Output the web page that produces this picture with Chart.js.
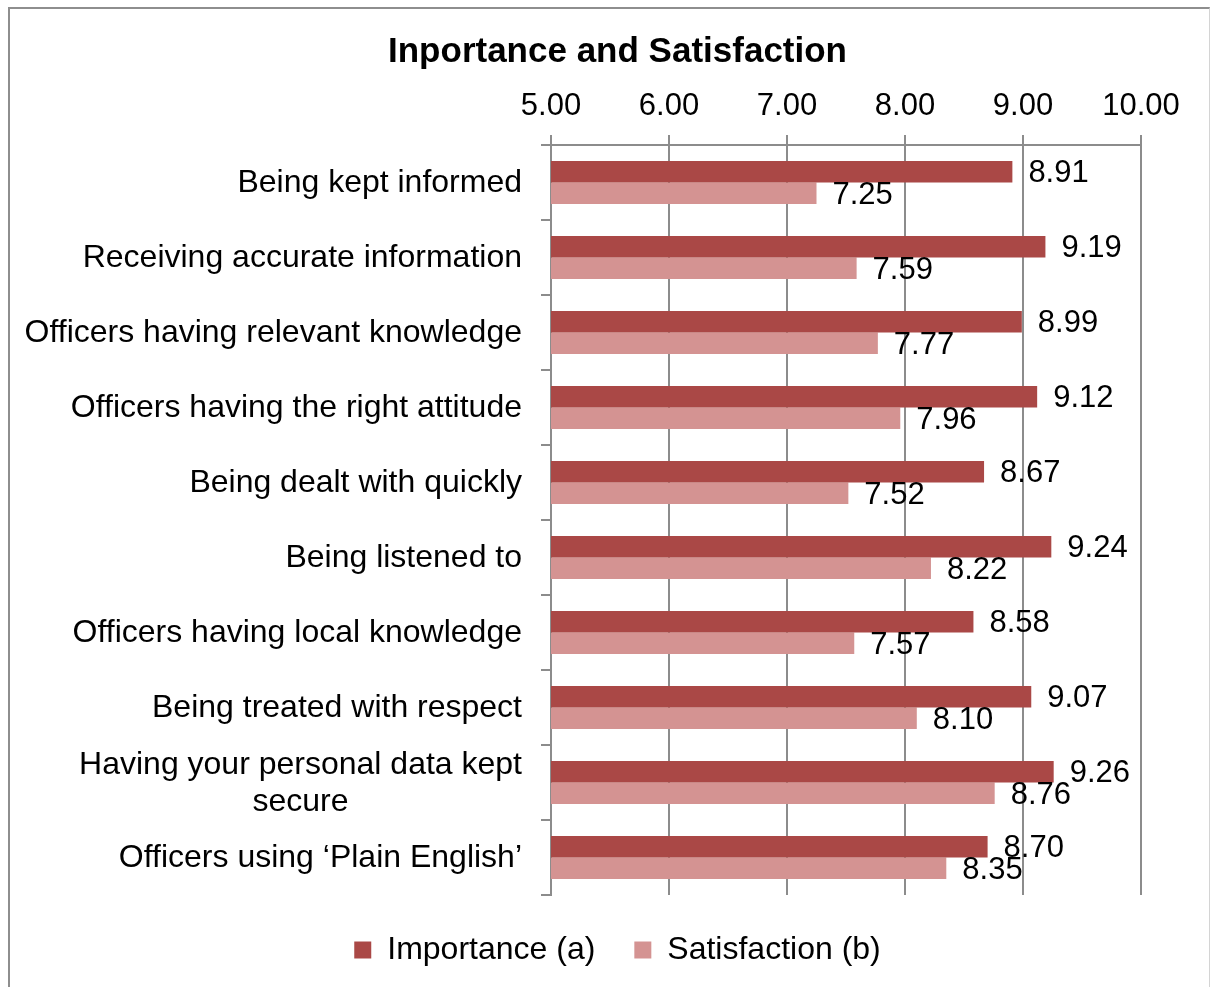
<!DOCTYPE html>
<html>
<head>
<meta charset="utf-8">
<script src="https://cdn.jsdelivr.net/npm/chart.js@4.4.1/dist/chart.umd.min.js"></script>
<style>
  html, body { margin: 0; padding: 0; background: #fff; overflow: hidden; }
  #wrap { position: relative; width: 1211px; height: 987px; overflow: hidden; }
  #frame {
    position: absolute; left: 8px; top: 7px; width: 1199px; height: 1100px;
    border-left: 2px solid #8e8e8e; border-top: 2px solid #8e8e8e;
    border-right: 1px solid #d4d4d4; pointer-events: none;
  }
</style>
</head>
<body>
<div id="wrap">
  <canvas id="myChart" width="1211" height="976"></canvas>
  <div id="frame"></div>
</div>
<script>
var categories = [
  "Being kept informed",
  "Receiving accurate information",
  "Officers having relevant knowledge",
  "Officers having the right attitude",
  "Being dealt with quickly",
  "Being listened to",
  "Officers having local knowledge",
  "Being treated with respect",
  ["Having your personal data kept", "secure"],
  "Officers using \u2018Plain English\u2019"
];
var importance = [8.91, 9.19, 8.99, 9.12, 8.67, 9.24, 8.58, 9.07, 9.26, 8.70];
var satisfaction = [7.25, 7.59, 7.77, 7.96, 7.52, 8.22, 7.57, 8.10, 8.76, 8.35];
var axisMin = 5, axisMax = 10, axisStep = 1;

var FONT = "'Liberation Sans', Arial, sans-serif";
var gridGrey = "#8c8c8c";

// category names drawn by hand so wrapped lines stay centred on each other
var categoryLabels = {
  id: "categoryLabels",
  afterDraw: function (chart) {
    var ctx = chart.ctx;
    var y = chart.scales.y;
    var right = y.right - 29;
    ctx.save();
    ctx.font = "32px " + FONT;
    ctx.fillStyle = "#000";
    ctx.textBaseline = "middle";
    chart.data.labels.forEach(function (lbl, i) {
      var cy = y.getPixelForTick(i) + 1;
      if (Array.isArray(lbl)) {
        var w = Math.max.apply(null, lbl.map(function (s) { return ctx.measureText(s).width; }));
        var cx = right - w / 2;
        var lh = 37;
        ctx.textAlign = "center";
        lbl.forEach(function (s, k) {
          ctx.fillText(s, cx, cy + (k - (lbl.length - 1) / 2) * lh);
        });
      } else {
        ctx.textAlign = "right";
        ctx.fillText(lbl, right, cy);
      }
    });
    ctx.restore();
  }
};

// value printed just past the end of each bar
var valueLabels = {
  id: "valueLabels",
  afterDatasetsDraw: function (chart) {
    var ctx = chart.ctx;
    ctx.save();
    ctx.font = "31px " + FONT;
    ctx.fillStyle = "#000";
    ctx.textAlign = "left";
    ctx.textBaseline = "middle";
    chart.data.datasets.forEach(function (ds, di) {
      chart.getDatasetMeta(di).data.forEach(function (bar, i) {
        ctx.fillText(ds.data[i].toFixed(2), bar.x + 16, bar.y + 2);
      });
    });
    ctx.restore();
  }
};

var ctx = document.getElementById("myChart").getContext("2d");
var myChart = new Chart(ctx, {
  type: "bar",
  data: {
    labels: categories,
    datasets: [{
      label: "Importance (a)",
      data: importance,
      backgroundColor: "#aa4846",
      borderWidth: 0
    }, {
      label: "Satisfaction (b)",
      data: satisfaction,
      backgroundColor: "#d49392",
      borderWidth: 0
    }]
  },
  options: {
    indexAxis: "y",
    responsive: false,
    animation: false,
    categoryPercentage: 0.573,
    barPercentage: 1.0,
    layout: { padding: { left: 24, right: 0, top: 0, bottom: 0 } },
    plugins: {
      tooltip: { enabled: false },
      title: {
        display: true,
        text: "Inportance and Satisfaction",
        color: "#000",
        font: { family: FONT, size: 35, weight: "bold", lineHeight: 1.2 },
        padding: { top: 31, bottom: 0 }
      },
      legend: {
        position: "bottom",
        labels: {
          color: "#000",
          font: { family: FONT, size: 32 },
          boxWidth: 17,
          boxHeight: 17,
          padding: 39
        }
      }
    },
    scales: {
      x: {
        position: "top",
        min: axisMin,
        max: axisMax,
        afterFit: function (s) { s.height = 72; },
        ticks: {
          stepSize: axisStep,
          color: "#000",
          padding: 10,
          font: { family: FONT, size: 31 },
          callback: function (v) { return Number(v).toFixed(2); }
        },
        grid: { color: gridGrey, lineWidth: 2, tickLength: 10 },
        border: { display: true, color: gridGrey, width: 2 }
      },
      y: {
        position: "left",
        afterFit: function (s) { s.width = 527; },
        ticks: { display: false },
        grid: { offset: true, drawOnChartArea: false, color: gridGrey, lineWidth: 2, tickLength: 10 },
        border: { display: true, color: gridGrey, width: 2 }
      },
      yRight: {
        type: "category",
        position: "right",
        afterFit: function (s) { s.width = 70; },
        ticks: { display: false },
        grid: { display: false, drawTicks: false },
        border: { display: false }
      }
    }
  },
  plugins: [categoryLabels, valueLabels]
});
</script>
</body>
</html>
